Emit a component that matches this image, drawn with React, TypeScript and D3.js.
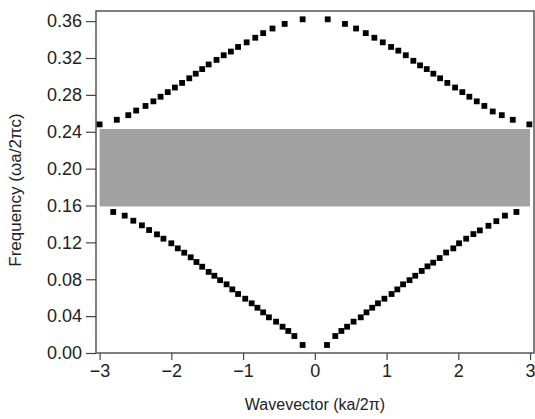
import React, { useEffect, useRef } from "react";
import * as d3 from "d3";

// upper band, read left to right
const upperK = [
  -3.0, -2.76, -2.6, -2.49, -2.36, -2.25, -2.15, -2.05, -1.95, -1.85, -1.75, -1.66, -1.57,
  -1.48, -1.37, -1.27, -1.17, -1.07, -0.95, -0.83, -0.72, -0.59, -0.42, -0.17,
  0.18, 0.42, 0.575, 0.71, 0.83, 0.947, 1.063, 1.164, 1.268, 1.373, 1.467, 1.56, 1.652,
  1.746, 1.847, 1.955, 2.056, 2.154, 2.257, 2.363, 2.48, 2.606, 2.759, 2.99,
];
const upperF = [
  0.248, 0.253, 0.258, 0.263, 0.268, 0.273, 0.278, 0.283, 0.288, 0.293, 0.298, 0.303, 0.308,
  0.313, 0.318, 0.323, 0.327, 0.332, 0.337, 0.342, 0.347, 0.352, 0.357, 0.362,
  0.362, 0.357, 0.352, 0.347, 0.342, 0.337, 0.332, 0.328, 0.323, 0.317, 0.312, 0.308, 0.303,
  0.298, 0.293, 0.288, 0.283, 0.278, 0.273, 0.268, 0.262, 0.258, 0.253, 0.248,
];

// lower band
const lowerK = [
  -2.81, -2.65, -2.53, -2.41, -2.31, -2.2, -2.11, -2.0, -1.91, -1.82, -1.73, -1.65, -1.57,
  -1.48, -1.4, -1.32, -1.23, -1.15, -1.07, -0.97, -0.88, -0.8, -0.72, -0.64, -0.54, -0.45,
  -0.37, -0.285, -0.17,
  0.17, 0.285, 0.37, 0.45, 0.54, 0.64, 0.72, 0.8, 0.88, 0.97, 1.07, 1.15, 1.23, 1.32, 1.4,
  1.49, 1.57, 1.65, 1.74, 1.83, 1.93, 2.01, 2.11, 2.21, 2.3, 2.42, 2.53, 2.65, 2.81,
];
const lowerF = [
  0.153, 0.149, 0.1435, 0.1385, 0.1334, 0.1287, 0.124, 0.119, 0.1135, 0.1088, 0.1038, 0.0987,
  0.0936, 0.088, 0.0838, 0.079, 0.0745, 0.069, 0.064, 0.0589, 0.0539, 0.0491, 0.0441, 0.0387,
  0.034, 0.0285, 0.0239, 0.0184, 0.0087,
  0.0087, 0.0184, 0.0239, 0.0285, 0.034, 0.0387, 0.0441, 0.0491, 0.0539, 0.0589, 0.064, 0.069,
  0.0745, 0.079, 0.0838, 0.089, 0.094, 0.098, 0.103, 0.109, 0.1135, 0.119, 0.124, 0.129, 0.133,
  0.138, 0.143, 0.149, 0.153,
];

// band gap
const gapK = [-3.0, 3.0];
const gapF = [0.159, 0.243];

const xTicks = [-3, -2, -1, 0, 1, 2, 3];
const yTicks = [0, 0.04, 0.08, 0.12, 0.16, 0.2, 0.24, 0.28, 0.32, 0.36];

const App = () => {
  const svgRef = useRef();

  useEffect(() => {
    const svg = d3.select(svgRef.current);
    svg.selectAll("*").remove();

    const left = 96, right = 534, top = 11, bottom = 353;
    const x = d3.scaleLinear().domain([-3.05, 3.055]).range([left, right]);
    const y = d3.scaleLinear().domain([0, 0.371]).range([bottom, top]);
    const font = "'Liberation Sans', Arial, sans-serif";

    // gap
    svg.append("rect")
      .attr("x", x(gapK[0]))
      .attr("y", y(gapF[1]))
      .attr("width", x(gapK[1]) - x(gapK[0]))
      .attr("height", y(gapF[0]) - y(gapF[1]))
      .attr("fill", "#a2a2a2");

    // frame
    svg.append("rect")
      .attr("x", left).attr("y", top)
      .attr("width", right - left).attr("height", bottom - top)
      .attr("fill", "none").attr("stroke", "#555").attr("stroke-width", 1.5);

    const pts = [
      ...upperK.map((k, i) => [k, upperF[i]]),
      ...lowerK.map((k, i) => [k, lowerF[i]]),
    ];
    const s = 5.8;
    svg.append("g").selectAll("rect")
      .data(pts)
      .enter()
      .append("rect")
      .attr("x", d => x(d[0]) - s / 2)
      .attr("y", d => y(d[1]) - s / 2)
      .attr("width", s)
      .attr("height", s)
      .attr("fill", "#000");

    // y axis
    const yAxis = svg.append("g").attr("transform", `translate(${left},0)`);
    yAxis.call(d3.axisLeft(y).tickValues(d3.range(0, 0.3705, 0.01)).tickSize(5).tickFormat(""));
    yAxis.call(d3.axisLeft(y).tickValues(yTicks).tickSize(10).tickFormat(d3.format(".2f")).tickPadding(4));
    yAxis.selectAll(".domain").remove();
    yAxis.selectAll("line").attr("stroke", "#444").attr("stroke-width", 1.2);
    yAxis.selectAll("text")
      .style("font-family", font).style("font-size", "18px").attr("fill", "#222");

    // x axis
    const xAxis = svg.append("g").attr("transform", `translate(0,${bottom})`);
    xAxis.call(d3.axisBottom(x).tickValues(d3.range(-2.5, 3, 1)).tickSize(4).tickFormat(""));
    xAxis.call(d3.axisBottom(x).tickValues(xTicks).tickSize(7)
      .tickFormat(d => (d < 0 ? "\u2212" + Math.abs(d) : String(d))).tickPadding(4));
    xAxis.selectAll(".domain").remove();
    xAxis.selectAll("line").attr("stroke", "#444").attr("stroke-width", 1.2);
    xAxis.selectAll("text")
      .style("font-family", font).style("font-size", "18px").attr("fill", "#222");

    // titles
    svg.append("text")
      .attr("x", (left + right) / 2)
      .attr("y", 410)
      .attr("text-anchor", "middle")
      .style("font-family", font).style("font-size", "16px").attr("fill", "#222")
      .text("Wavevector (ka/2\u03c0)");

    svg.append("text")
      .attr("transform", `translate(21,${(top + bottom) / 2 + 8}) rotate(-90)`)
      .attr("text-anchor", "middle")
      .style("font-family", font).style("font-size", "17px").attr("fill", "#222")
      .text("Frequency (\u03c9a/2\u03c0c)");
  }, []);

  return (
    <div style={{ position: "absolute", left: 0, top: 0 }}>
      <svg ref={svgRef} width={535} height={419} style={{ display: "block", background: "#fff" }}></svg>
    </div>
  );
};

export default App;
